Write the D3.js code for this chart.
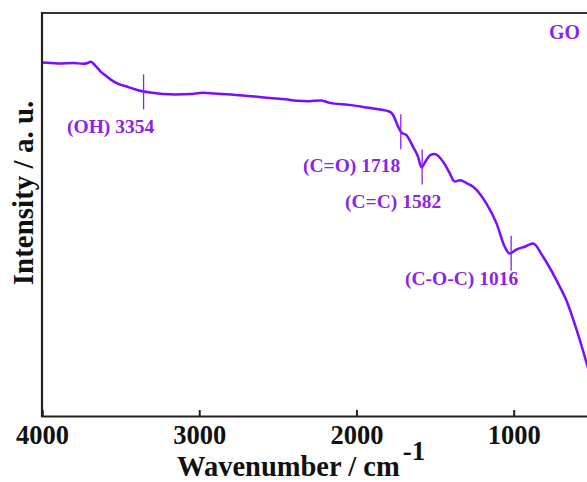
<!DOCTYPE html>
<html>
<head>
<meta charset="utf-8">
<script src="https://cdn.jsdelivr.net/npm/d3@7"></script>
<style>
  html, body { margin: 0; padding: 0; background: #fff; }
  svg { display: block; font-family: "Liberation Serif", "Times New Roman", serif; font-weight: bold; }
</style>
</head>
<body>
<div id="chart"></div>
<script>
// FTIR spectrum of GO (intensity in arbitrary units, 0-100)
const wavenumber = [4000, 3900, 3800, 3740, 3710, 3690, 3660, 3630, 3600, 3560, 3525, 3450, 3377, 3300,
  3231, 3150, 3059, 2977, 2900, 2800, 2741, 2650, 2550, 2450, 2381, 2300, 2230, 2169, 2050, 1959,
  1860, 1788, 1767, 1735, 1713, 1682, 1640, 1610, 1586, 1560, 1533, 1502, 1449, 1410, 1375, 1340,
  1300, 1258, 1173, 1109, 1057, 1025, 1010, 983, 930, 877, 813, 728, 665, 599, 536, 480, 420];
const intensity = [87.7, 87.5, 87.6, 87.4, 87.6, 87.9, 86.9, 85.6, 84.6, 83.4, 82.6, 81.6, 80.7, 80.2,
  79.9, 79.8, 79.9, 80.2, 80.0, 79.8, 79.6, 79.3, 78.9, 78.6, 78.2, 78.1, 78.3, 77.7, 77.2, 76.7,
  76.1, 75.5, 74.7, 71.8, 70.3, 69.7, 66.8, 64.5, 61.7, 63.2, 64.7, 65.0, 63.1, 60.5, 58.2, 58.5,
  57.8, 56.9, 52.7, 47.8, 42.0, 40.3, 40.6, 41.3, 42.0, 42.8, 39.5, 33.7, 28.7, 21.3, 13.1, 5.0, -3.0];

// band assignments marked on the curve
const bandWn = [3354, 1718, 1582, 1016];
const bandLabels = ["(OH) 3354", "(C=O) 1718", "(C=C) 1582", "(C-O-C) 1016"];

const xTicks = [4000, 3000, 2000, 1000];

const W = 587, H = 482;
const margin = {top: 13, right: -21, bottom: 66, left: 42};
const lineColor = "#7b0cff";
const textColor = "#8a24e6";

const svg = d3.select("#chart").append("svg")
  .attr("width", W).attr("height", H)
  .attr("viewBox", [0, 0, W, H]);

const x = d3.scaleLinear().domain([4000, 400]).range([margin.left, W - margin.right]);
const y = d3.scaleLinear().domain([0, 100]).range([H - margin.bottom, margin.top]);

const data = wavenumber.map((w, i) => ({w, v: intensity[i]}));

svg.append("clipPath").attr("id", "plot-clip")
  .append("rect")
  .attr("x", margin.left).attr("y", margin.top)
  .attr("width", W - margin.left).attr("height", H - margin.bottom - margin.top);

const line = d3.line()
  .x(d => x(d.w))
  .y(d => y(d.v))
  .curve(d3.curveMonotoneX);

svg.append("path")
  .datum(data)
  .attr("clip-path", "url(#plot-clip)")
  .attr("fill", "none")
  .attr("stroke", lineColor)
  .attr("stroke-width", 2.5)
  .attr("stroke-linejoin", "round")
  .attr("d", line);

// value on the curve at a given wavenumber (for placing the marks)
const interp = w => {
  const asc = data.slice().reverse();
  const i = d3.bisector(d => d.w).left(asc, w);
  const a = asc[i - 1], b = asc[i];
  return a.v + (b.v - a.v) * (w - a.w) / (b.w - a.w);
};

bandWn.forEach(w => {
  const cy = y(interp(w));
  svg.append("line")
    .attr("x1", x(w)).attr("x2", x(w))
    .attr("y1", cy - 17).attr("y2", cy + 18)
    .attr("stroke", textColor).attr("stroke-width", 1.3);
});

// label anchors: [left edge, baseline]
const labelPos = [[67, 133], [303, 172], [345, 208], [405, 285]];
svg.selectAll("text.band")
  .data(bandLabels)
  .join("text")
    .attr("class", "band")
    .attr("x", (d, i) => labelPos[i][0])
    .attr("y", (d, i) => labelPos[i][1])
    .attr("fill", textColor)
    .attr("font-size", 19.5)
    .text(d => d);

svg.append("text")
  .attr("x", 580).attr("y", 39)
  .attr("text-anchor", "end")
  .attr("fill", textColor)
  .attr("font-size", 20)
  .text("GO");

// axes frame
const axisColor = "#222";
const x0 = margin.left, yb = H - margin.bottom;
svg.append("line").attr("x1", x0).attr("x2", W).attr("y1", margin.top).attr("y2", margin.top)
  .attr("stroke", "#333").attr("stroke-width", 2.2);
svg.append("line").attr("x1", x0).attr("x2", x0).attr("y1", margin.top - 1).attr("y2", yb + 1)
  .attr("stroke", axisColor).attr("stroke-width", 2.2);

const xAxis = svg.append("g")
  .attr("transform", `translate(0,${yb})`)
  .call(d3.axisBottom(x).tickValues(xTicks).tickSize(-6).tickPadding(9).tickFormat(d3.format("d")));
xAxis.select(".domain").attr("stroke", axisColor).attr("stroke-width", 2.2);
xAxis.selectAll(".tick line").attr("stroke", axisColor).attr("stroke-width", 2);
xAxis.selectAll(".tick text")
  .attr("fill", "#111")
  .attr("font-family", "Liberation Serif, Times New Roman, serif")
  .attr("font-weight", "bold")
  .attr("font-size", 26.5);

// axis titles
const xt = svg.append("text")
  .attr("x", 177).attr("y", 476)
  .attr("fill", "#111")
  .attr("font-size", 28.5);
xt.append("tspan").text("Wavenumber / cm");
xt.append("tspan").attr("dy", -16).attr("dx", 3).attr("font-size", 27).text("-1");

svg.append("text")
  .attr("transform", "translate(33,193) rotate(-90)")
  .attr("text-anchor", "middle")
  .attr("fill", "#111")
  .attr("font-size", 29)
  .text("Intensity / a. u.");
</script>
</body>
</html>
